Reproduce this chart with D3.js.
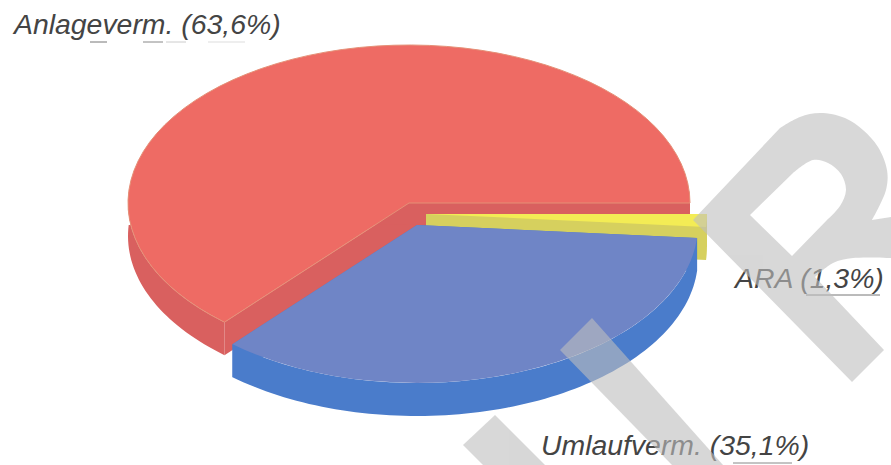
<!DOCTYPE html>
<html><head><meta charset="utf-8">
<style>html,body{margin:0;padding:0;background:#fff;overflow:hidden}svg{display:block}</style>
<script src="https://cdn.jsdelivr.net/npm/d3@7"></script>
</head><body><svg id="c" width="891" height="465"></svg>
<script>
const categories = ["Anlageverm.", "Umlaufverm.", "ARA"];
const shares = [63.6, 35.1, 1.3];
const shareLabels = ["63,6%", "35,1%", "1,3%"];
const topColours = ["#ee6b64", "#6f85c6", "#f3ec55"];
const wallColours = ["#d9605f", "#4a7ccb", "#d6d05e"];
const edgeColours = ["#e59077", "none", "none"];
const centres = [[409, 203], [417, 225], [426, 214]];
const labelPos = [[14, 34], [541, 455], [735, 288]];
const drawOrder = [0, 2, 1];

const R = 281, RY = 158, DEPTH = 33;
const svg = d3.select("#c");
const pieData = d3.pie().sort(null).startAngle(Math.PI / 2).endAngle(Math.PI / 2 - 2 * Math.PI)(shares);
const pt = (c, a, dz = 0) => [c[0] + R * Math.sin(a), c[1] - RY * Math.cos(a) + dz];
const line = d3.line();

function wallRadial(c, a) {
  return line([c, pt(c, a), pt(c, a, DEPTH), [c[0], c[1] + DEPTH]]) + "Z";
}
function wallOuter(c, a0, a1) {
  const lo = Math.min(a0, a1), hi = Math.max(a0, a1);
  const n = Math.max(2, Math.ceil((hi - lo) * 40));
  const angs = d3.range(n + 1).map(i => lo + (hi - lo) * i / n)
    .filter(a => Math.cos(a) <= 0.09);
  if (angs.length < 2) return null;
  return line(angs.map(a => pt(c, a)).concat(angs.slice().reverse().map(a => pt(c, a, DEPTH)))) + "Z";
}
const arc = d3.arc().innerRadius(0).outerRadius(R);

drawOrder.forEach(i => {
  const d = pieData[i], c = centres[i];
  const g = svg.append("g").attr("class", "slice");
  g.append("path").attr("d", wallRadial(c, d.startAngle)).attr("fill", wallColours[i]);
  g.append("path").attr("d", wallRadial(c, d.endAngle)).attr("fill", wallColours[i]);
  const o = wallOuter(c, d.startAngle, d.endAngle);
  if (o) g.append("path").attr("d", o).attr("fill", wallColours[i]);
  g.append("path").attr("d", arc(d))
    .attr("transform", `translate(${c[0]},${c[1]}) scale(1,${RY / R})`)
    .attr("fill", topColours[i])
    .attr("stroke", edgeColours[i])
    .attr("stroke-width", 1)
    .attr("vector-effect", "non-scaling-stroke");
});

svg.append("g").selectAll("text").data(categories).join("text")
  .attr("x", (d, i) => labelPos[i][0]).attr("y", (d, i) => labelPos[i][1])
  .attr("font-family", "'Liberation Sans', Arial, sans-serif")
  .attr("font-style", "italic").attr("font-size", 28.4).attr("fill", "#444444")
  .text((d, i) => `${d} (${shareLabels[i]})`);

// scan artefacts under the labels
const dashes = [[90,107,42,"#777"],[143,163,42,"#888"],[166,186,42,"#ccc"],[208,245,42,"#ddd"],[806,880,295,"#777"],[733,792,463,"#888"]];
svg.append("g").selectAll("line").data(dashes).join("line")
  .attr("x1", d => d[0]).attr("x2", d => d[1]).attr("y1", d => d[2]).attr("y2", d => d[2])
  .attr("stroke", d => d[3]).attr("stroke-width", 1);

// diagonal watermark
const wm = svg.append("g").attr("fill", "rgb(190,190,190)").attr("opacity", 0.6);
const bowlOuter = [[780,128],[800,117],[820,113],[845,118],[863,130],[878,147],[887,170],[886,190],[872,220]];
const bowlHole = [[793,173],[813,160],[828,163],[841,174],[846,190],[840,206],[827,220]];
const lowerCurve = [[891,258],[853,258],[833,263],[815,277]];
const curve = d3.line().curve(d3.curveCatmullRom);
wm.append("path").attr("fill-rule", "evenodd").attr("d",
  "M693,220L" + curve(bowlOuter).slice(1) +
  "L891,217L" + curve(lowerCurve).slice(1) +
  "L884,350L852,382Z" +
  "M750,215L" + curve(bowlHole).slice(1) + "L792,256Z");
wm.append("path").attr("d", "M592,318L560,350L672,465L723,465Z");
wm.append("path").attr("d", "M495,415L463,445L483,465L545,465Z");
</script></body></html>
